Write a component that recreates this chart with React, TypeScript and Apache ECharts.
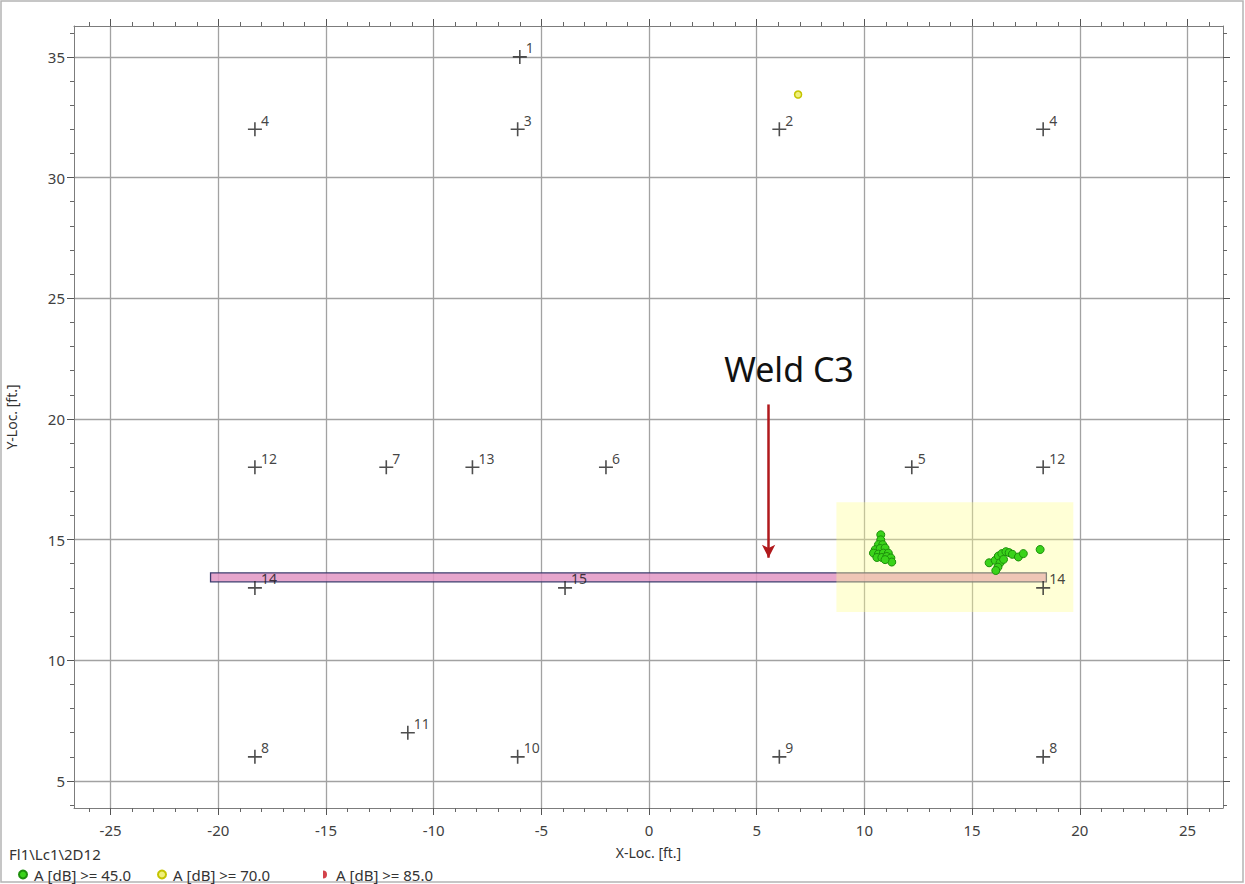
import React, { useEffect, useRef } from "react";
import * as echarts from "echarts";

// Axis ticks
const xTickValues = [-25, -20, -15, -10, -5, 0, 5, 10, 15, 20, 25];
const yTickValues = [5, 10, 15, 20, 25, 30, 35];
const xRange = [-26.7, 26.65];
const yRange = [3.88, 36.28];

// Sensors
const sensorIds = ["1", "2", "3", "4", "4", "5", "6", "7", "8", "8", "9", "10", "11", "12", "12", "13", "14", "14", "15"];
const sensorX = [-6.0, 6.05, -6.1, -18.3, 18.3, 12.2, -2.0, -12.2, -18.3, 18.3, 6.05, -6.1, -11.2, -18.3, 18.3, -8.2, -18.3, 18.3, -3.9];
const sensorY = [35, 32, 32, 32, 32, 18, 18, 18, 6, 6, 6, 6, 7, 18, 18, 18, 13, 13, 13];

// Hits A >= 45 dB
const hit45X = [10.76, 10.76, 10.65, 10.85, 10.5, 10.73, 10.96, 10.42, 10.65, 10.88, 11.11, 10.58, 10.81, 11.04, 11.23, 11.27, 10.96,
  15.79, 16.07, 16.22, 16.38, 16.57, 16.72, 16.87, 17.15, 17.38, 16.3, 16.2, 16.1, 16.46, 18.16];
const hit45Y = [15.2, 14.99, 14.79, 14.79, 14.58, 14.63, 14.65, 14.44, 14.4, 14.44, 14.44, 14.26, 14.26, 14.3, 14.24, 14.07, 14.17,
  14.04, 14.14, 14.32, 14.42, 14.5, 14.46, 14.39, 14.28, 14.42, 14.04, 13.86, 13.72, 14.18, 14.59];
// Hits A >= 70 dB
const hit70X = [6.92];
const hit70Y = [33.44];
// Hits A >= 85 dB
const hit85X: number[] = [];
const hit85Y: number[] = [];

// Annotations (data coordinates)
const weldBar = [[-20.36, 13.62], [18.45, 13.25]];
const zoneRect = [[8.7, 16.55], [19.7, 12.0]];
const arrowLine = [[5.55, 20.6], [5.55, 14.25]];
const weldLabelPos = [6.5, 22.05];

const seriesNames = ["A [dB] >= 45.0", "A [dB] >= 70.0", "A [dB] >= 85.0"];

const FONT = "Noto Sans";
const PLUS = "path://M6.2,0h1.6v6.2h6.2v1.6h-6.2v6.2h-1.6v-6.2h-6.2v-1.6h6.2z";
const HALF = "path://M0,0A5,5 0 0 1 0,10Z";

const zip = (xs: number[], ys: number[]) => xs.map((x, i) => [x, ys[i]]);

export default function App() {
  const ref = useRef<HTMLDivElement>(null);
  useEffect(() => {
    if (!ref.current) return;
    const chart = echarts.init(ref.current, undefined, { renderer: "svg" });
    const axisLineStyle = { color: "#7c7c7c", width: 1 };
    const baseX = {
      type: "value",
      min: xRange[0],
      max: xRange[1],
      splitNumber: 10,
      minInterval: 5,
      maxInterval: 5,
      axisLine: { show: true, onZero: false, lineStyle: axisLineStyle },
      axisTick: { show: true, inside: false, length: 7, lineStyle: { color: "#555" }, customValues: xTickValues },
      minorTick: { show: true, splitNumber: 5, length: 4, lineStyle: { color: "#666" } },
    };
    const baseY = {
      type: "value",
      min: yRange[0],
      max: yRange[1],
      splitNumber: 6,
      minInterval: 5,
      maxInterval: 5,
      axisLine: { show: true, onZero: false, lineStyle: axisLineStyle },
      axisTick: { show: true, inside: false, length: 7, lineStyle: { color: "#555" }, customValues: yTickValues },
      minorTick: { show: true, splitNumber: 5, length: 4, lineStyle: { color: "#666" } },
    };
    const option: any = {
      animation: false,
      backgroundColor: "#ffffff",
      title: {
        text: "Fl1\\Lc1\\2D12",
        left: 4,
        top: 841,
        textStyle: { fontFamily: FONT, fontSize: 15, fontWeight: "normal", color: "#333" },
      },
      legend: seriesNames.map((n, i) => ({
        data: [n],
        left: [13, 152, 318][i],
        top: 862,
        itemWidth: 12,
        itemHeight: 8,
        itemGap: 10,
        selectedMode: false,
        textStyle: { fontFamily: FONT, fontSize: 15, color: "#333" },
      })),
      grid: { left: 74, right: 22, top: 26, bottom: 76, containLabel: false, outerBoundsMode: "none" },
      xAxis: [
        {
          ...baseX,
          position: "bottom",
          name: "X-Loc. [ft.]",
          nameLocation: "middle",
          nameGap: 37,
          nameTextStyle: { fontFamily: FONT, fontSize: 14, color: "#333" },
          axisLabel: { show: true, margin: 14, fontFamily: FONT, fontSize: 15, color: "#404040", customValues: xTickValues },
          splitLine: { show: true, lineStyle: { color: "#a2a2a2", width: 1.3 } },
        },
        {
          ...baseX,
          position: "top",
          axisLabel: { show: false },
          splitLine: { show: false },
        },
      ],
      yAxis: [
        {
          ...baseY,
          position: "left",
          name: "Y-Loc. [ft.]",
          nameLocation: "middle",
          nameGap: 56,
          nameTextStyle: { fontFamily: FONT, fontSize: 14, color: "#333" },
          axisLabel: { show: true, margin: 9, fontFamily: FONT, fontSize: 15, color: "#404040", customValues: yTickValues },
          splitLine: { show: true, lineStyle: { color: "#a2a2a2", width: 1.3 } },
        },
        {
          ...baseY,
          position: "right",
          axisLabel: { show: false },
          splitLine: { show: false },
        },
      ],
      graphic: [
        {
          type: "rect",
          silent: true,
          shape: { x: 1, y: 1, width: 1242, height: 881 },
          style: { fill: "none", stroke: "#b4b4b4", lineWidth: 1.5 },
        },
      ],
      series: [
        {
          name: "weld",
          type: "scatter",
          data: [],
          z: 1,
          silent: true,
          markArea: {
            silent: true,
            itemStyle: { color: "rgba(226,150,196,0.85)", borderColor: "#3c3c6e", borderWidth: 1.3 },
            data: [[{ coord: weldBar[0] }, { coord: weldBar[1] }]],
          },
        },
        {
          name: "zone",
          type: "scatter",
          data: [],
          z: 2,
          silent: true,
          markArea: {
            silent: true,
            itemStyle: { color: "rgba(255,255,140,0.36)" },
            data: [[{ coord: zoneRect[0] }, { coord: zoneRect[1] }]],
          },
        },
        {
          name: "annot",
          type: "scatter",
          data: [],
          z: 3,
          silent: true,
          markLine: {
            silent: true,
            symbol: ["none", "arrow"],
            symbolSize: [10, 13],
            label: { show: false },
            lineStyle: { color: "#b0191c", width: 2.5, type: "solid" },
            data: [[{ coord: arrowLine[0] }, { coord: arrowLine[1] }]],
          },
          markPoint: {
            silent: true,
            symbol: "circle",
            symbolSize: 1,
            itemStyle: { color: "transparent" },
            label: {
              show: true,
              position: "inside",
              formatter: "Weld C3",
              fontFamily: FONT,
              fontSize: 34,
              color: "#111",
            },
            data: [{ coord: weldLabelPos }],
          },
        },
        {
          name: "sensors",
          type: "scatter",
          z: 4,
          silent: true,
          symbol: PLUS,
          symbolSize: 14,
          itemStyle: { color: "#222" },
          label: {
            show: true,
            position: "right",
            distance: 0,
            offset: [-1, -9],
            formatter: (p: any) => sensorIds[p.dataIndex],
            fontFamily: FONT,
            fontSize: 14,
            color: "#111",
          },
          data: zip(sensorX, sensorY),
        },
        {
          name: seriesNames[0],
          type: "scatter",
          z: 5,
          symbol: "circle",
          symbolSize: 8,
          itemStyle: { color: "#3ad31a", borderColor: "#1d8f0b", borderWidth: 1, opacity: 1 },
          data: zip(hit45X, hit45Y),
        },
        {
          name: seriesNames[1],
          type: "scatter",
          z: 5,
          symbol: "circle",
          symbolSize: 7,
          itemStyle: { color: "#f0f07a", borderColor: "#c4c400", borderWidth: 1.5, opacity: 1 },
          data: zip(hit70X, hit70Y),
        },
        {
          name: seriesNames[2],
          type: "scatter",
          z: 5,
          symbol: HALF,
          symbolSize: [5, 9],
          itemStyle: { color: "#c8141e" },
          data: zip(hit85X, hit85Y),
        },
      ],
    };
    chart.setOption(option);
    return () => chart.dispose();
  }, []);
  return (
    <div
      ref={ref}
      style={{ position: "absolute", left: 0, top: 0, width: 1245, height: 884, background: "#fff" }}
    />
  );
}
